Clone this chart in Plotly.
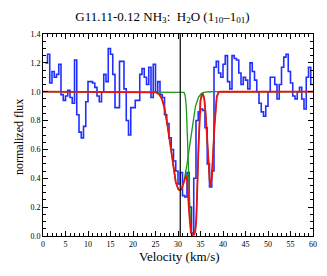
import numpy as np
import plotly.graph_objects as go

# Observed spectrum: channel left edges (km/s) and normalized flux
chan_v = [0.5 + 0.5 * i for i in range(119)]
flux = [1.20, 1.26, 1.06, 1.14, 1.10, 1.12, 1.19, 0.98, 0.94, 0.97,
        1.01, 0.96, 0.92, 1.22, 0.84, 0.72, 0.68, 0.76, 0.93, 1.07,
        1.07, 1.06, 1.03, 0.97, 0.93, 1.00, 1.12, 1.07, 1.30, 1.26,
        1.12, 0.89, 0.89, 1.21, 1.21, 1.02, 0.80, 0.70, 0.89, 0.89,
        0.94, 0.94, 1.12, 1.16, 1.10, 1.05, 1.17, 0.96, 1.19, 1.00,
        1.07, 0.98, 0.96, 0.84, 0.78, 0.68, 0.60, 0.52, 0.45, 0.36,
        0.44, 0.28, 0.27, 0.44, 0.20, 0.02, 0.40, 0.80, 0.86, 0.88,
        0.87, 0.75, 0.50, 0.34, 0.45, 1.17, 1.21, 1.13, 1.10, 1.19,
        1.25, 1.07, 1.02, 1.25, 1.23, 1.22, 1.13, 1.05, 1.10, 1.08,
        1.02, 1.20, 1.14, 1.08, 1.00, 0.92, 0.86, 0.83, 0.90, 1.00,
        1.10, 1.10, 1.05, 0.95, 1.05, 1.17, 1.24, 1.26, 1.14, 1.06,
        0.97, 0.95, 1.00, 1.03, 0.95, 0.88, 1.10, 1.17, 1.05]
chan_v = chan_v[:len(flux)]

# Gaussian fit components (optical depth): broad + two narrow
broad_center, broad_tau, broad_sigma = 30.4, 1.15, 1.6
narrow_centers = [33.35, 37.2]
narrow_taus = [4.8, 1.05]
narrow_sigmas = [0.55, 0.55]

v_ref = 30.5  # systemic velocity marker

vgrid = np.linspace(0, 60, 1201)
tau_b = broad_tau * np.exp(-(vgrid - broad_center) ** 2 / (2 * broad_sigma ** 2))
tau_n = np.zeros_like(vgrid)
for c, t, s in zip(narrow_centers, narrow_taus, narrow_sigmas):
    tau_n += t * np.exp(-(vgrid - c) ** 2 / (2 * s ** 2))

fig = go.Figure()
xs = chan_v + [chan_v[-1] + 0.5]
ys = flux + [flux[-1]]
fig.add_trace(go.Scatter(x=xs, y=ys, mode="lines", line=dict(color="#1f2fff", width=1.6, shape="hv"),
                         showlegend=False))
fig.add_trace(go.Scatter(x=vgrid, y=np.exp(-tau_b), mode="lines",
                         line=dict(color="#1a961a", width=1.3), showlegend=False))
fig.add_trace(go.Scatter(x=vgrid, y=np.exp(-tau_n), mode="lines",
                         line=dict(color="#1a961a", width=1.3), showlegend=False))
fig.add_trace(go.Scatter(x=vgrid, y=np.exp(-(tau_b + tau_n)), mode="lines",
                         line=dict(color="#ee1111", width=1.8), showlegend=False))

fig.add_shape(type="line", x0=v_ref, x1=v_ref, y0=0, y1=1, yref="paper", xref="x",
              line=dict(color="black", width=1.2), layer="above")

serif = "Liberation Serif, Times New Roman, serif"
W, H = 327, 276
axis_common = dict(showgrid=False, zeroline=False, showline=True, linecolor="black", linewidth=1,
                   mirror="ticks", ticks="inside", tickcolor="black", ticklen=5, automargin=False,
                   tickfont=dict(family=serif, size=8, color="black"))
fig.update_layout(
    width=W, height=H,
    margin=dict(l=43, r=14, t=34, b=40),
    paper_bgcolor="white", plot_bgcolor="white",
    title=dict(text="G11.11-0.12 NH<sub>3</sub>:  H<sub>2</sub>O (1<sub>10</sub>–1<sub>01</sub>)",
               x=162.5 / W, xanchor="center", y=1 - 16 / H, yanchor="middle",
               font=dict(family=serif, size=13, color="black")),
    xaxis=dict(range=[0, 60], dtick=5, tick0=0,
               minor=dict(dtick=1, ticks="inside", ticklen=3, tickcolor="black"),
               **axis_common),
    yaxis=dict(range=[0, 1.4], dtick=0.2, tick0=0, tickformat=".1f",
               minor=dict(dtick=0.05, ticks="inside", ticklen=3, tickcolor="black"),
               **axis_common),
)
fig.add_annotation(text="Velocity (km/s)", xref="paper", yref="paper",
                   x=(179 - 43) / 270, y=-(256 - 236) / 202, xanchor="center", yanchor="middle",
                   showarrow=False, font=dict(family=serif, size=13, color="black"))
fig.add_annotation(text="normalized flux", xref="paper", yref="paper", textangle=-90,
                   x=-(43 - 19) / 270, y=(236 - 137) / 202, xanchor="center", yanchor="middle",
                   showarrow=False, font=dict(family=serif, size=12, color="black"))
fig.write_html("out.html", config={"displayModeBar": False},
               post_script="document.body.style.margin='0';document.body.style.overflow='hidden';")
